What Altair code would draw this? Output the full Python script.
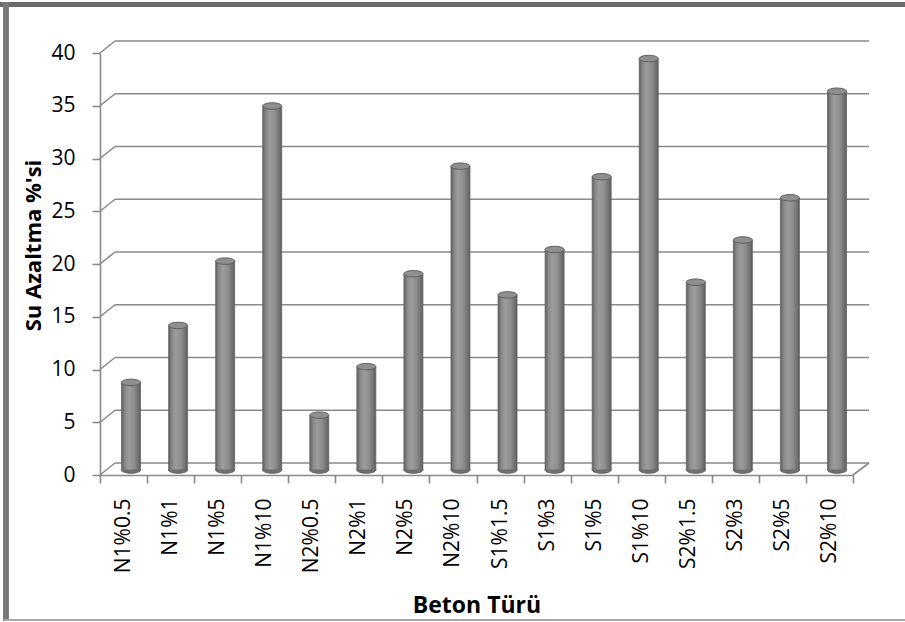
import altair as alt
import pandas as pd

# Concrete types and their water reduction percentages
categories = ["N1%0.5", "N1%1", "N1%5", "N1%10",
              "N2%0.5", "N2%1", "N2%5", "N2%10",
              "S1%1.5", "S1%3", "S1%5", "S1%10",
              "S2%1.5", "S2%3", "S2%5", "S2%10"]
values = [8.3, 13.7, 19.8, 34.5,
          5.2, 9.8, 18.6, 28.8,
          16.6, 20.9, 27.8, 39.0,
          17.8, 21.8, 25.8, 35.9]
y_ticks = [0, 5, 10, 15, 20, 25, 30, 35, 40]

FONT = "Open Sans"
W, H = 753, 422          # front plane of the plot box
DX, DY = 15, -12         # depth shift of the back wall
GRID = "#8a8a8a"

bars = pd.DataFrame({"tur": categories, "oran": values})
grid = pd.DataFrame({"v": y_ticks})

x_enc = alt.X("tur:N", sort=categories,
              scale=alt.Scale(paddingInner=0, paddingOuter=0),
              axis=alt.Axis(title="Beton Türü", labelAngle=-90, labelAlign="right",
                            labelBaseline="middle", labelPadding=15,
                            tickBand="extent", tickSize=8, tickColor=GRID,
                            domainColor=GRID, domainWidth=1.6, tickWidth=1.6,
                            labelFont=FONT, labelFontSize=21, labelColor="#000",
                            titleFont=FONT, titleFontSize=23, titleFontWeight="bold",
                            titleColor="#000", titleY=130, titleBaseline="middle"))
y_scale = alt.Scale(domain=[0, 40], nice=False, zero=True)

# back wall gridlines
back = alt.Chart(grid).mark_rule(color=GRID, strokeWidth=1.6, yOffset=DY).encode(
    y=alt.Y("v:Q", scale=y_scale,
            axis=alt.Axis(title="Su Azaltma %'si", values=y_ticks, grid=False,
                          tickSize=8, tickColor=GRID, domainColor=GRID,
                          domainWidth=1.6, tickWidth=1.6, labelPadding=17,
                          labelFont=FONT, labelFontSize=21, labelColor="#000",
                          titleFont=FONT, titleFontSize=22, titleFontWeight="bold",
                          titleColor="#000", titleX=-67, titleY=192,
                          titleBaseline="middle")),
    x=alt.value(DX), x2=alt.value(W + DX + 1),
)

# slanted side-wall connectors from the front axis to the back wall
slants = alt.Chart(grid).mark_rule(color=GRID, strokeWidth=1.6, y2Offset=DY).encode(
    y=alt.Y("v:Q", scale=y_scale), y2="v:Q",
    x=alt.value(0), x2=alt.value(DX),
)

# right edge of the floor
floor_edge = alt.Chart(pd.DataFrame({"v": [0]})).mark_rule(
    color=GRID, strokeWidth=1.6, y2Offset=DY).encode(
    y=alt.Y("v:Q", scale=y_scale), y2="v:Q",
    x=alt.value(W), x2=alt.value(W + DX + 1),
)

cyl = alt.Gradient(
    gradient="linear", x1=0, x2=1, y1=0, y2=0,
    stops=[alt.GradientStop(color="#5f5f5f", offset=0),
           alt.GradientStop(color="#8a8a8a", offset=0.18),
           alt.GradientStop(color="#9c9c9c", offset=0.38),
           alt.GradientStop(color="#8e8e8e", offset=0.65),
           alt.GradientStop(color="#6e6e6e", offset=0.9),
           alt.GradientStop(color="#5a5a5a", offset=1)],
)

ELLIPSE = "M -1 0 A 1 0.34 0 1 0 1 0 A 1 0.34 0 1 0 -1 0 Z"
BW = 19
BX, BY = DX / 2, DY / 2 + 1

bottoms = alt.Chart(bars).mark_point(
    shape=ELLIPSE, filled=True, size=BW * BW, color="#707070", opacity=1,
    stroke="#606060", strokeWidth=1, xOffset=BX, yOffset=BY,
).encode(x=x_enc, y=alt.Y("zero:Q", scale=y_scale)).transform_calculate(zero="0")

cols = alt.Chart(bars).mark_bar(
    width=BW, color=cyl, stroke="#666666", strokeWidth=0.8,
    xOffset=BX, yOffset=BY, y2Offset=BY,
).encode(x=x_enc, y=alt.Y("oran:Q", scale=y_scale))

tops = alt.Chart(bars).mark_point(
    shape=ELLIPSE, filled=True, size=BW * BW, color="#8f8f8f", opacity=1,
    stroke="#5e5e5e", strokeWidth=1, xOffset=BX, yOffset=BY,
).encode(x=x_enc, y=alt.Y("oran:Q", scale=y_scale))

# outer chart frame
frame_top = alt.Chart(grid).mark_rule(color="#6b6b6b", strokeWidth=5).encode(
    y=alt.value(-48.5), x=alt.value(-100), x2=alt.value(805))
frame_left = alt.Chart(grid).mark_rule(color="#777777", strokeWidth=4.5).encode(
    x=alt.value(-94), y=alt.value(-51), y2=alt.value(568))
frame_bottom = alt.Chart(grid).mark_rule(color="#a8a8a8", strokeWidth=2).encode(
    y=alt.value(567), x=alt.value(-96), x2=alt.value(805))

chart = alt.layer(
    back, slants, floor_edge, bottoms, cols, tops,
    frame_top, frame_left, frame_bottom,
).properties(
    width=W, height=H,
    autosize=alt.AutoSizeParams(type="none"),
    padding={"left": 100, "top": 53, "right": 52, "bottom": 147},
    background="white",
).configure_view(stroke=None)

chart.save("out.html", embed_options={"renderer": "svg", "actions": False})
